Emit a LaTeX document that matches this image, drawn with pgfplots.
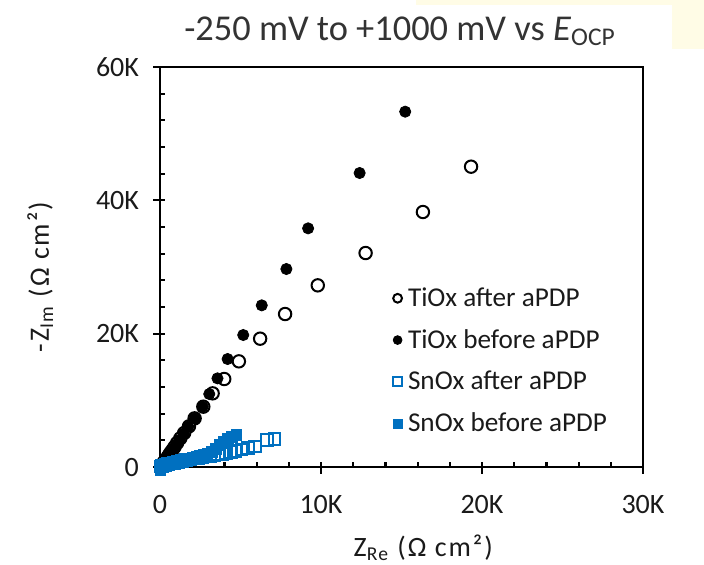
\documentclass[border=0pt]{standalone}
\usepackage{fontspec}
\setmainfont{Carlito}
\newfontfamily\spaced[LetterSpace=7]{Carlito}
\usepackage{pgfplots}
\pgfplotsset{compat=1.18}
\definecolor{snblue}{HTML}{0070C0}
\definecolor{txt}{HTML}{1A1A1A}
\definecolor{ttl}{HTML}{333333}
\definecolor{paleyel}{HTML}{FFFCE6}
\begin{document}
\begin{tikzpicture}
\path[use as bounding box] (-80pt,-48.5pt) rectangle (272pt,233.5pt);
\fill[paleyel] (128pt,231pt) rectangle (272pt,233.5pt);
\fill[paleyel] (256pt,209pt) rectangle (272pt,233.5pt);
\begin{axis}[
  at={(0,0)}, anchor=south west, scale only axis,
  width=241.5pt, height=200pt,
  xmin=0, xmax=30, ymin=0, ymax=60,
  clip=false,
  xtick={0,10,20,30}, xticklabels={0,10K,20K,30K},
  ytick={0,20,40,60}, yticklabels={0,20K,40K,60K},
  minor x tick num=4, minor y tick num=4,
  tick pos=left, tick align=inside,
  major tick length=6pt, minor tick length=2.6pt,
  major x tick style={yshift=-3.4pt},
  major y tick style={xshift=-3.4pt},
  tick style={line width=1.1pt, black},
  axis line style={line width=1.2pt, black},
  ticklabel style={font=\fontsize{14}{14}\selectfont, text=txt},
  x tick label style={yshift=-10.5pt},
  y tick label style={xshift=-7pt},
  xlabel={Z\textsubscript{Re} (Ω cm²)},
  ylabel={-Z\textsubscript{Im} (Ω cm²)},
  label style={font=\fontsize{14}{14}\selectfont\spaced, text=txt},
  xlabel style={at={(axis description cs:0.545,-0.2025)}, anchor=center},
  ylabel style={at={(axis description cs:-0.248,0.475)}, anchor=center},
  legend style={at={(axis description cs:0.482,0.46)}, anchor=north west,
    draw=none, fill=none, font=\fontsize{13.6}{13.6}\selectfont,
    row sep=6pt, inner sep=0pt, text=txt,
    nodes={inner xsep=3pt}},
  legend cell align=left,
  legend image post style={mark size=2.2pt},
]
\addplot[only marks, mark=*, mark size=3.1pt, mark options={fill=white, draw=black, line width=1pt}] coordinates {
(19.32,45.05)(16.33,38.25)(12.77,32.1)(9.8,27.25)(7.77,22.95)(6.22,19.25)(4.9,15.85)(3.99,13.2)(3.27,11.05)(2.69,9.05)(2.15,7.3)(1.80,6.1)(1.50,5.1)(1.26,4.3)(1.06,3.6)(0.90,3.0)(0.76,2.5)(0.64,2.1)(0.55,1.75)(0.47,1.45)(0.40,1.2)(0.34,1.0)(0.29,0.85)(0.25,0.7)(0.21,0.58)(0.18,0.48)(0.15,0.4)(0.13,0.33)(0.11,0.27)(0.09,0.22)
};
\addlegendentry{TiOx after aPDP}
\addplot[only marks, mark=*, mark size=2.8pt, mark options={fill=black, draw=black}] coordinates {
(15.23,53.3)(12.4,44.1)(9.2,35.8)(7.85,29.7)(6.32,24.25)(5.17,19.8)(4.2,16.2)(3.57,13.3)(3.06,10.95)(2.65,9.05)(2.17,7.3)(1.76,6.05)(1.47,5.0)(1.22,4.1)(1.02,3.4)(0.86,2.8)(0.72,2.3)(0.61,1.9)(0.52,1.55)(0.44,1.3)(0.37,1.05)(0.31,0.87)(0.26,0.71)(0.22,0.58)(0.19,0.48)(0.16,0.4)(0.14,0.32)(0.12,0.26)(0.10,0.21)
};
\addlegendentry{TiOx before aPDP}
\addplot[only marks, mark=square, mark size=2.9pt, mark options={draw=snblue, line width=1pt}] coordinates {
(7.1,4.2)(6.65,4.05)(5.9,3.1)(5.45,2.85)(5.05,2.6)(4.7,2.4)(4.4,2.25)(4.1,2.1)(3.85,1.98)(3.6,1.88)(3.35,1.78)(3.1,1.68)(2.85,1.58)(2.6,1.48)(2.35,1.38)(2.1,1.27)(1.85,1.15)(1.6,1.03)(1.35,0.9)(1.1,0.77)(0.88,0.64)(0.68,0.52)(0.5,0.41)(0.35,0.31)(0.22,0.22)(0.12,0.15)(0.05,0.1)
};
\addlegendentry{SnOx after aPDP}
\addplot[only marks, mark=square*, mark size=2.7pt, mark options={fill=snblue, draw=snblue}] coordinates {
(4.75,4.8)(4.45,4.5)(4.2,4.2)(3.95,3.75)(3.7,3.3)(3.45,2.75)(3.2,2.3)(2.95,2.0)(2.7,1.8)(2.45,1.62)(2.2,1.45)(1.95,1.3)(1.7,1.15)(1.45,1.0)(1.2,0.85)(0.98,0.7)(0.78,0.57)(0.6,0.45)(0.45,0.35)(0.32,0.25)(0.21,0.16)(0.12,0.08)(0.06,0.0)(0.03,-0.2)(0.02,-0.4)
};
\addlegendentry{SnOx before aPDP}
\node[anchor=base, font=\fontsize{18.2}{18.2}\selectfont, text=ttl] at (axis description cs:0.497,1.0675) {-250 mV to +1000 mV vs \textit{E}\textsubscript{OCP}};
\end{axis}
\end{tikzpicture}
\end{document}
